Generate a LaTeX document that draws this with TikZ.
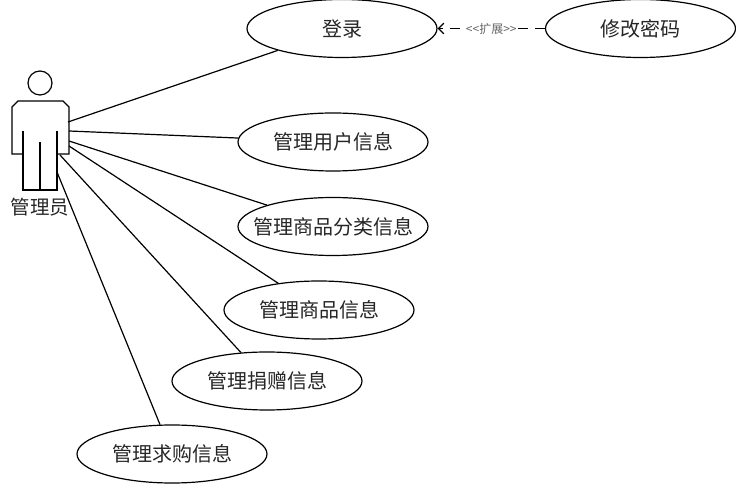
\documentclass[tikz,border=0pt]{standalone}
\usepackage{fontspec}
\setmainfont{Noto Sans CJK SC}[Scale=1]
\usetikzlibrary{arrows.meta,shapes.geometric}
\newcommand{\uctext}[1]{\makebox[0pt]{#1}}
\tikzset{
  usecase/.style={draw=black,line width=0.9pt,ellipse,minimum width=142.5pt,minimum height=43.5pt,inner sep=0pt,font=\fontsize{15pt}{16pt}\selectfont,text=black!85},
  assoc/.style={draw=black,line width=0.9pt},
  actorline/.style={draw=black,line width=0.9pt,line join=miter},
  extendline/.style={draw=black,line width=1pt,dash pattern=on 7.5pt off 5.25pt,-{Straight Barb[length=4pt,width=8pt]}},
  stereo/.style={fill=white,inner sep=0.5pt,font=\fontsize{9pt}{10pt}\selectfont,text=black!60}
}
\begin{document}
\begin{tikzpicture}[x=0.75pt,y=-0.75pt]
\useasboundingbox (0,0) rectangle (736,484);
\fill[white] (0,0) rectangle (736,484);
% actor
\node[draw=black,line width=0.9pt,circle,minimum size=18pt,inner sep=0pt] (head) at (40,83) {};
\draw[actorline] (23,154) -- (12,154) -- (12,107) -- (18,101) -- (63,101) -- (69,107) -- (69,154) -- (57,154);
\draw[actorline] (23,131) -- (23,190) -- (57,190) -- (57,131);
\draw[actorline] (40,142) -- (40,190);
\node[font=\fontsize{14.6pt}{16pt}\selectfont,text=black!85] (actorlabel) at (40,207) {管理员};
\coordinate (a1) at (68,122);
\coordinate (a2) at (69,131);
\coordinate (a3) at (69,141);
\coordinate (a4) at (69,146);
\coordinate (a5) at (60,155);
\coordinate (a6) at (57,172);
% use cases
\node[usecase] (login) at (342,28.5) {\uctext{登录}};
\node[usecase] (pwd) at (640.5,28.5) {\uctext{修改密码}};
\node[usecase] (user) at (333,142) {\uctext{管理用户信息}};
\node[usecase] (cat) at (333,226.5) {\uctext{管理商品分类信息}};
\node[usecase] (goods) at (319,310) {\uctext{管理商品信息}};
\node[usecase] (donate) at (267,381) {\uctext{管理捐赠信息}};
\node[usecase] (want) at (172,454) {\uctext{管理求购信息}};
% connectors
\draw[assoc] (a1) -- (login);
\draw[assoc] (a2) -- (user);
\draw[assoc] (a3) -- (cat);
\draw[assoc] (a4) -- (goods);
\draw[assoc] (a5) -- (donate);
\draw[assoc] (a6) -- (want);
\draw[extendline] (pwd) -- node[stereo,pos=0.5] (ext) {{<}{<}扩展{>}{>}} (login);
\end{tikzpicture}
\end{document}
